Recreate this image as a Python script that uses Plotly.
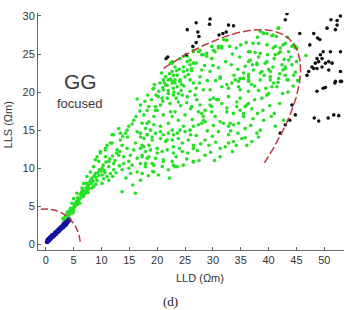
import numpy as np
import plotly.graph_objects as go

# ---- data (LLD, LLS in ohm-m) ----
green_pts = [
(3.5,3.6),(4.1,3.4),(3.8,4.1),(4.7,4.1),(4.4,4.7),(5.0,4.5),(4.7,5.4),(5.6,5.2),(5.0,6.0),(5.9,5.8),(6.8,6.3),(5.6,6.7),(6.2,6.5),(7.1,6.7),(6.5,7.4),(7.4,7.1),(8.3,7.4),(6.8,8.0),(7.7,7.8),(8.6,7.6),(7.4,8.9),(8.3,8.7),(9.2,8.4),(10.1,8.0),(11.3,8.4),(8.0,9.5),(8.9,9.3),(10.1,9.1),(11.0,8.9),(11.6,9.3),(8.6,10.2),(10.1,10.0),(11.3,10.2),(12.2,9.8),(13.7,9.8),(14.9,10.0),(16.4,9.5),(17.3,9.3),(8.9,11.1),(9.5,10.9),(11.3,10.9),(12.2,10.6),(14.0,10.6),(14.9,10.9),(15.5,10.4),(17.0,10.6),(17.9,10.2),(9.2,11.5),(10.7,11.5),(13.1,11.7),(14.0,11.5),(15.2,11.7),(16.4,11.3),(17.3,11.5),(18.2,11.3),(9.8,12.2),(10.7,12.4),(12.8,12.4),(14.6,12.6),(15.8,12.4),(17.0,12.6),(17.9,12.2),(11.0,13.0),(11.9,13.3),(13.7,13.0),(16.1,13.3),(17.3,13.0),(18.5,13.0),(11.9,14.4),(13.4,14.6),(14.7,14.1),(16.4,14.8),(17.0,14.1),(18.2,14.4),(17.0,8.4),(13.7,6.9),(16.1,6.7),
(3.3,3.1),(3.6,3.3),(3.9,3.7),(4.2,3.9),(4.3,4.3),(4.6,4.4),(4.8,4.8),(5.2,4.9),(5.3,5.4),(5.5,5.6),(5.8,5.5),(6.0,6.0),(6.3,6.1),(6.4,6.8),(6.7,6.6),(6.9,7.0),(7.2,7.4),(7.5,7.6),(7.8,7.3),(7.9,8.2),(8.2,8.0),(8.5,8.3),(8.7,9.0),(9.0,8.8),(9.3,9.4),(9.6,9.8),(9.9,9.6),(10.3,10.4),(10.5,9.7),(10.8,10.8),(11.5,11.2),(12.0,11.6),(12.4,11.0),(12.7,12.0),(13.3,12.2),(3.1,3.4),(4.0,4.3),(5.1,5.2),(5.7,6.1),(6.6,7.1),(7.3,8.0),(8.1,8.5),(9.5,9.0),(10.6,9.4),(4.9,4.2),(6.1,5.4),(7.6,6.8),(9.0,7.9),(10.4,8.6),(12.0,8.9),(12.6,9.4),(13.2,10.3),(15.2,9.3),(14.4,8.7),(18.4,9.0),(19.2,9.6),(15.6,7.8),
(19.4,20.5),(20.3,20.1),(21.1,20.3),(21.8,20.9),(22.7,21.2),(22.9,20.5),(23.6,20.7),(22.0,19.8),(22.9,19.6),(23.8,19.8),(20.9,19.2),(21.8,19.2),(25.9,20.1),(25.4,19.4),(24.1,21.4),(29.5,20.3),(33.4,21.2),(34.6,20.7),(30.1,19.2),(31.0,19.0),(31.6,18.5),(32.8,19.4),(34.3,18.7),(34.9,19.2),(27.7,18.3),(28.6,17.6),(29.8,17.4),(29.5,18.3),(27.4,17.4),(32.5,17.4),(34.3,18.1),(34.9,17.6),(17.0,18.3),(18.5,18.1),(19.7,18.1),(20.6,18.3),(19.7,17.6),(18.2,17.6),(23.2,17.4),(22.4,17.4),(23.8,18.7),(17.6,17.0),(19.4,16.8),(21.1,17.0),(22.7,16.8),(23.8,16.3),(28.0,17.2),(28.3,16.3),(30.4,16.8),(31.3,16.1),(31.9,15.9),(33.1,15.9),(33.7,15.7),(32.8,15.5),(34.6,15.9),(17.3,15.9),(18.5,16.1),(19.4,15.7),(20.6,15.5),(22.0,15.9),(22.7,15.0),(24.7,15.5),(26.5,15.5),(27.4,15.7),(28.0,15.9),(28.6,16.1),(25.9,15.0),(25.0,14.8),(24.1,15.0),(23.6,14.6),(22.9,14.4),(22.0,14.6),(21.1,14.4),(20.6,13.9),(19.7,14.6),(18.8,15.0),(17.9,15.2),(18.2,14.4),(17.6,13.9),(19.1,13.7),(21.5,13.5),(22.7,13.7),(23.8,13.9),(24.5,13.3),(25.6,13.7),(26.5,13.0),(28.6,13.7),(31.0,14.8),(32.8,14.4),(33.7,13.5),(35.2,13.9),(17.6,12.8),(18.8,12.4),(20.0,12.6),(20.9,12.2),(21.8,12.4),(22.9,12.0),(24.5,12.2),(26.5,12.6),(31.3,12.6),(32.2,12.8),(32.8,13.3),(17.3,11.7),(18.5,11.5),(19.7,11.3),(21.1,11.1),(22.7,10.9),(24.7,10.4),(26.5,10.9),(28.6,11.7),(31.3,11.5),(17.9,10.6),(19.4,10.4),(20.9,10.2),(23.2,10.2),
(16.4,19.1),(19.2,20.4),(19.8,19.6),(21.1,21.6),(21.6,20.9),(22.4,23.8),(22.7,22.7),(23.2,21.2),(20.0,17.6),(18.2,15.9),(15.8,16.3),(14.9,15.5),(14.3,14.6),(13.4,13.7),(13.1,15.2),(12.2,14.4),(11.6,13.3),(10.7,12.6),(9.8,12.0),(17.0,14.6),(19.1,14.1),(20.6,14.8),(21.8,13.7),(22.9,12.8),(20.0,12.0),
(22.2,8.7),(20.2,9.1),(26.5,10.8),(19.1,10.6),(21.1,10.9),(22.9,10.4),(23.6,10.2),(19.4,9.5),(22.0,9.8),
(22.7,24.0),(24.7,24.7),(26.5,25.5),(27.4,25.3),(28.0,24.9),(28.9,25.1),(29.8,24.4),(30.1,25.5),(31.0,25.8),(31.6,26.0),(32.4,26.8),(25.4,24.0),(25.9,23.6),(26.5,23.8),(28.0,22.9),(31.3,22.0),(25.0,22.0),(24.1,21.6),(22.9,22.2),(23.2,21.6),(22.7,21.4),(25.9,21.6),(24.7,22.7),(25.4,22.9),(34.9,21.8),(34.6,21.4),(22.0,21.6),
(39.0,27.8),(40.8,27.5),(41.7,28.4),(42.6,26.2),(44.2,26.0),(44.8,25.8),(38.2,26.4),(36.4,25.3),(36.7,24.2),(38.2,24.6),(39.8,24.9),(40.8,25.8),(42.1,25.3),(37.1,23.6),(37.9,23.8),(39.4,23.8),(40.8,23.3),(42.6,22.9),(43.0,23.3),(46.7,24.8),(36.4,22.3),(35.5,21.8),(38.5,22.5),(40.3,22.0),(41.7,21.3),(43.5,21.6),(44.8,22.6),
(36.4,21.4),(38.5,21.6),(40.9,21.2),(43.3,21.6),(40.6,20.7),(41.5,20.7),(36.4,20.1),(40.0,19.8),(39.7,19.6),(38.8,19.2),(36.1,18.3),(35.8,18.1),(36.4,18.5),(35.5,17.2),(39.1,16.3),(42.7,16.3),(41.2,15.5),(35.8,15.2),(37.9,14.6),(38.2,14.1),(38.5,15.0),(37.0,13.5),(36.1,13.0),
(39.7,26.2),(41.2,26.0),(42.1,25.8),(43.0,26.4),(43.6,25.3),(41.8,25.1),(38.5,25.1),(36.7,25.3),(36.4,24.0),(37.9,23.6),(39.7,24.0),(41.2,24.9),(42.4,23.6),(43.0,23.1),(40.3,22.7),(38.8,22.7),(37.3,22.9),(35.5,22.5),(36.4,21.6),(40.3,21.6),(41.8,21.8),(43.0,22.2),(44.5,22.2),(44.2,23.6),(43.6,24.2),
(39.1,27.7),(39.7,27.7),(40.6,27.4),(41.4,27.3),(41.8,28.4),(44.5,26.2),(44.8,26.0),(45.1,25.8),
(32.5,26.8),(31.9,26.9),(31.0,26.0),(29.8,26.0),(31.6,25.8),(30.4,25.3),(28.3,24.9),(27.7,25.5),(28.9,24.7),(29.8,24.4),(26.5,25.3),(25.4,24.7),(25.9,24.2),(24.1,24.4),(22.7,23.8),(23.2,23.3),(24.7,23.3),(26.2,23.1),
(34.9,20.3),(36.4,22.0),(32.8,20.5),(34.0,21.6),(31.6,20.7),(30.7,19.0),(29.5,19.0),(27.1,19.0),(26.2,18.1),(29.8,18.1),(28.3,16.8),(32.5,17.9),(33.7,17.2),(35.5,16.8),(31.3,21.8),(29.5,22.7),(27.7,22.0),(26.5,21.2),(28.3,20.3),
(20.8,22.5),(21.5,22.0),(22.2,22.4),(23.5,22.8),(24.0,23.0),(21.3,21.2),(22.0,20.2),(23.0,20.0),(24.3,20.2),(24.8,20.8),(24.5,19.6),(23.4,19.2),(21.0,18.8),(22.3,18.5),(24.2,18.2),(25.3,18.6),(26.0,17.8),(25.0,17.0),(26.3,16.4),(27.0,20.5),(27.6,21.2),(26.8,19.6),(20.2,19.4),(19.0,19.0),(18.3,19.6),(17.8,18.8),(16.9,17.5),(16.2,16.8),(15.5,15.8),(14.6,15.0),(13.8,14.2),(19.5,21.0),(20.5,21.2),(21.0,20.6),(22.4,21.7),(23.6,22.2),(24.4,21.0),(25.6,22.3),(26.2,22.8),
(25.5,12.0),(27.2,12.3),(27.8,13.2),(29.3,13.0),(29.9,14.2),(30.5,13.4),(27.0,14.3),(29.0,14.9),(30.1,15.6),(26.0,14.4),(24.0,12.6),(23.4,11.5),(25.3,11.2),(27.5,11.0),(29.6,12.1),(30.3,11.0),(33.5,12.2),(34.2,13.0),(34.5,14.6),(33.2,14.9),(35.8,14.0),(36.8,15.6),(37.2,16.5),(38.0,17.2),(37.0,17.8),(39.0,17.6),(40.2,18.2),(41.0,17.2),(42.0,18.5),(40.5,16.8),(37.5,19.0),(38.2,20.2),(39.5,20.5),(42.5,19.8),(43.5,20.0),(37.5,20.8),(36.9,21.0),
(38.0,27.2),(37.2,26.4),(36.0,26.5),(35.0,26.2),(34.2,25.8),(33.5,25.0),(33.0,26.0),(34.8,24.6),(35.8,23.4),(34.5,23.0),(33.3,23.6),(32.3,24.0),(31.0,23.2),(30.0,23.5),(32.5,21.0),(33.8,22.2),(30.5,21.5),(29.0,21.5),(28.5,23.5),(27.0,23.8),(38.5,28.0),(43.4,27.2),(44.0,24.6),(45.0,24.0),(42.8,24.3),(44.4,20.8),(45.2,21.5),(42.0,22.4),(39.2,22.2),(40.0,23.0),(41.0,24.4),(37.6,25.2),
]

black_pts = [
(21.6,24.4),(21.9,24.6),(25.4,28.2),(27.0,29.1),(27.3,27.9),(27.5,27.3),(27.0,26.5),(26.4,26.0),(25.2,24.9),(29.5,29.6),(29.4,28.9),(31.1,27.5),(31.8,27.7),(32.4,27.9),(32.8,28.8),(33.7,28.7),
(43.3,30.3),(43.0,29.5),(45.6,27.7),(48.1,27.7),(48.8,27.1),(49.2,26.9),(50.5,28.4),(51.2,29.5),(52.3,28.8),(52.3,29.4),(52.9,30.0),(52.0,28.2),(47.4,26.2),(49.8,25.3),(49.3,24.9),(49.6,24.4),(48.7,24.4),(51.1,25.3),(52.9,25.3),(50.8,24.0),(51.4,23.8),(50.2,23.8),(49.0,24.0),(48.4,23.8),(49.6,23.3),(48.7,23.1),(48.1,23.1),(47.2,22.7),(47.8,23.3),(46.9,22.2),(50.8,22.9),(52.9,22.7),(52.0,21.4),(52.9,21.4),
(44.2,18.3),(44.8,17.0),(43.8,16.3),(43.0,15.7),(42.1,14.6),(48.7,20.1),(49.8,20.5),(50.2,20.6),(51.9,21.2),(53.1,21.4),(48.2,16.6),(49.0,16.2),(50.7,16.6),(51.7,17.0),(52.6,16.9),
]

blue_pts = [
(0.2,0.3),(0.3,0.5),(0.45,0.4),(0.5,0.7),(0.65,0.6),(0.7,0.85),(0.85,0.9),(0.9,0.75),(1.05,1.0),(1.1,1.15),(1.25,1.0),(1.3,1.2),(1.45,1.3),(1.5,1.15),(1.65,1.4),(1.7,1.55),(1.85,1.4),(1.9,1.6),(2.05,1.75),(2.1,1.6),(2.25,1.85),(2.3,1.95),(2.45,1.8),(2.5,2.05),(2.65,2.15),(2.7,2.0),(2.85,2.25),(2.9,2.35),(3.05,2.2),(3.1,2.45),(3.25,2.5),(3.3,2.4),(3.45,2.65),(3.5,2.75),(3.65,2.6),(3.7,2.85),(3.85,2.9),(3.9,3.0),(4.05,3.05),(4.1,3.15),(4.2,3.25),(0.35,0.55),(0.75,0.65),(1.2,1.15),(1.75,1.35),(2.2,1.65),(2.75,2.25),(3.2,2.65),(3.75,2.95),
]

x_ticks = [0, 5, 10, 15, 20, 25, 30, 35, 40, 45, 50]
y_ticks = [0, 5, 10, 15, 20, 25, 30]

# ellipse parameters (boundaries drawn on the chart)
small_axes = (6.2, 4.65)
big_center = (18.0, 7.9)
big_u = (25.9, 18.95)
big_v = (9.96, -7.29)
big_t_range = (-62.5, 61.0)

gx, gy = zip(*green_pts)
kx, ky = zip(*black_pts)
bx, by = zip(*blue_pts)

RED = "#bb3a44"
FONT = "Liberation Sans, Arial, sans-serif"
TXT = "#333333"

fig = go.Figure()
fig.add_trace(go.Scatter(x=gx, y=gy, mode="markers",
                         marker=dict(size=3.6, color="#25e025"), hoverinfo="skip"))
fig.add_trace(go.Scatter(x=kx, y=ky, mode="markers",
                         marker=dict(size=3.6, color="#111111"), hoverinfo="skip"))
fig.add_trace(go.Scatter(x=bx, y=by, mode="markers",
                         marker=dict(size=4.5, color="#1212a0"), hoverinfo="skip"))

t2 = np.linspace(np.pi, 0, 100)
fig.add_trace(go.Scatter(x=small_axes[0] * np.cos(t2), y=small_axes[1] * np.sin(t2),
                         mode="lines", line=dict(color=RED, width=1.5, dash="7px,3px"),
                         hoverinfo="skip"))

tb = np.radians(np.linspace(big_t_range[0], big_t_range[1], 200))
ex = big_center[0] + big_u[0] * np.cos(tb) + big_v[0] * np.sin(tb)
ey = big_center[1] + big_u[1] * np.cos(tb) + big_v[1] * np.sin(tb)
fig.add_trace(go.Scatter(x=ex, y=ey, mode="lines",
                         line=dict(color=RED, width=1.5, dash="8px,3px"), hoverinfo="skip"))

axis_common = dict(showgrid=False, zeroline=False, showline=True, linecolor="#666666",
                   linewidth=1, ticks="inside", ticklen=3, tickcolor="#666666",
                   tickfont=dict(family=FONT, size=11, color=TXT), mirror=False)
fig.update_xaxes(range=[-1.4, 53.54], tickvals=x_ticks, **axis_common)
fig.update_yaxes(range=[-0.75, 30.39], tickvals=y_ticks, **axis_common)


def ann(text, x, y, size, angle=0, family=FONT, color=TXT):
    return dict(text=text, x=x, y=y, xref="paper", yref="paper", showarrow=False,
                xanchor="center", yanchor="middle", textangle=angle,
                font=dict(family=family, size=size, color=color))


fig.update_layout(
    width=345, height=310, showlegend=False,
    margin=dict(l=37.7, r=1.3, t=13, b=60),
    paper_bgcolor="white", plot_bgcolor="white",
    annotations=[
        ann("GG", 0.138, 0.709, 21, color="#3a3a3a"),
        ann("focused", 0.138, 0.62, 13, color="#3a3a3a"),
        ann("LLD (Ωm)", 0.529, -0.118, 11),
        ann("LLS (Ωm)", -0.097, 0.527, 11, angle=-90),
        ann("(d)", 0.432, -0.218, 13, family="Liberation Serif", color="#222222"),
    ],
)

fig.write_html("out.html")
